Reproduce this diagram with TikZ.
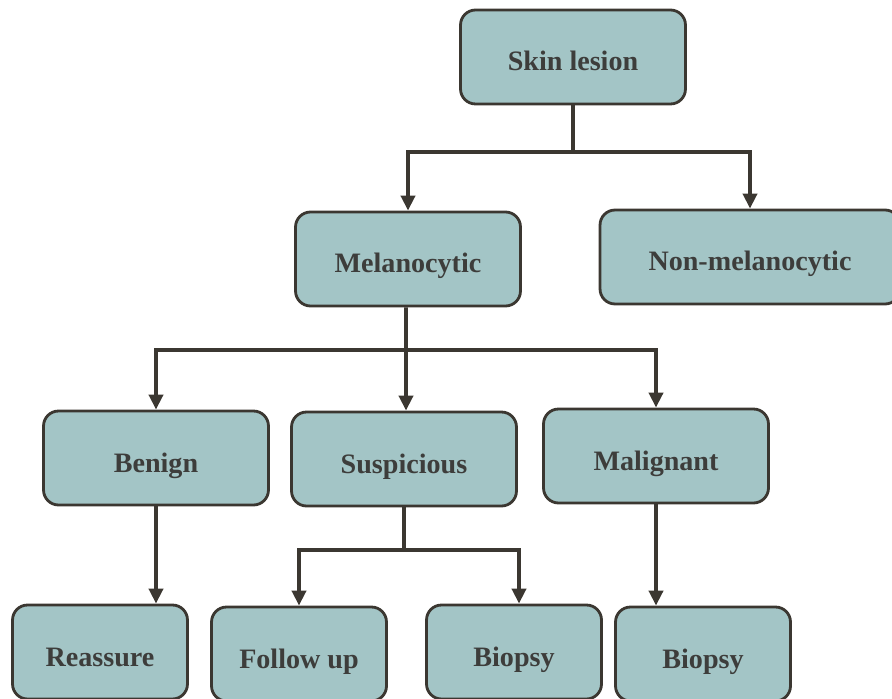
\documentclass[tikz,border=0pt]{standalone}
\usepackage{fontspec}
\setmainfont{Liberation Serif}
\usetikzlibrary{arrows.meta, positioning}

\definecolor{boxfill}{HTML}{A3C5C6}
\definecolor{boxline}{HTML}{3B3731}
\definecolor{boxtext}{HTML}{3D3D3B}

\begin{document}
\begin{tikzpicture}[
                x=0.02cm, y=-0.02cm,
                block/.style={rectangle, draw=boxline, line width=1.6pt, fill=boxfill, text=boxtext, font=\fontsize{16}{19}\selectfont\bfseries, text centered, text height=0.56cm, text depth=0pt, rounded corners=0.3cm, minimum width=4.5cm, minimum height=1.88cm, inner sep=0pt},
                leaf/.style={block, minimum width=3.5cm},
                line/.style={draw=boxline, line width=2.2pt, -{Triangle[length=0.3cm, width=0.28cm]}}
            ]
                \useasboundingbox (0,0) rectangle (892,699);

                % Place nodes
                \node [block] (S_lesion) at (573,57) {Skin lesion};
                \node [block] (S_melano) at (408,259) {Melanocytic};
                \node [block, minimum width=6cm] (S_nonmel) at (750,257) {Non-melanocytic};

                % Second level
                \node [block] (S_benign) at (156,458) {Benign};
                \node [block] (S_suspic) at (404,459) {Suspicious};
                \node [block] (S_malign) at (656,456) {Malignant};

                % Bottom row, cut by the page edge
                \node [leaf] (S_reass) at (100,652) {Reassure};
                \node [leaf] (S_follow) at (299,654) {Follow up};
                \node [leaf] (S_biopA) at (514,652) {Biopsy};
                \node [leaf] (S_biopB) at (703,654) {Biopsy};

                % Split points
                \coordinate (S_split1) at (573,152);
                \coordinate (S_split2) at (406,350);
                \coordinate (S_split3) at (404,550);

                % Draw edges
                \path [line] (S_lesion.south) -- (S_split1) -| (S_melano);
                \path [line] (S_split1) -| (S_nonmel);
                \path [line, -] ([xshift=-0.04cm]S_melano.south) -- (S_split2);
                \path [line] (S_split2) -| (S_benign);
                \path [line] (S_split2) -- (S_split2 |- S_suspic.north);
                \path [line] (S_split2) -| (S_malign);
                \path [line] (S_benign.south) -- (S_benign.south |- S_reass.north);
                \path [line] (S_suspic.south) -- (S_split3) -| (S_follow);
                \path [line] (S_split3) -| ([xshift=0.1cm]S_biopA.north);
                \path [line] (S_malign.south) -- (S_malign.south |- S_biopB.north);

            \end{tikzpicture}
\end{document}
